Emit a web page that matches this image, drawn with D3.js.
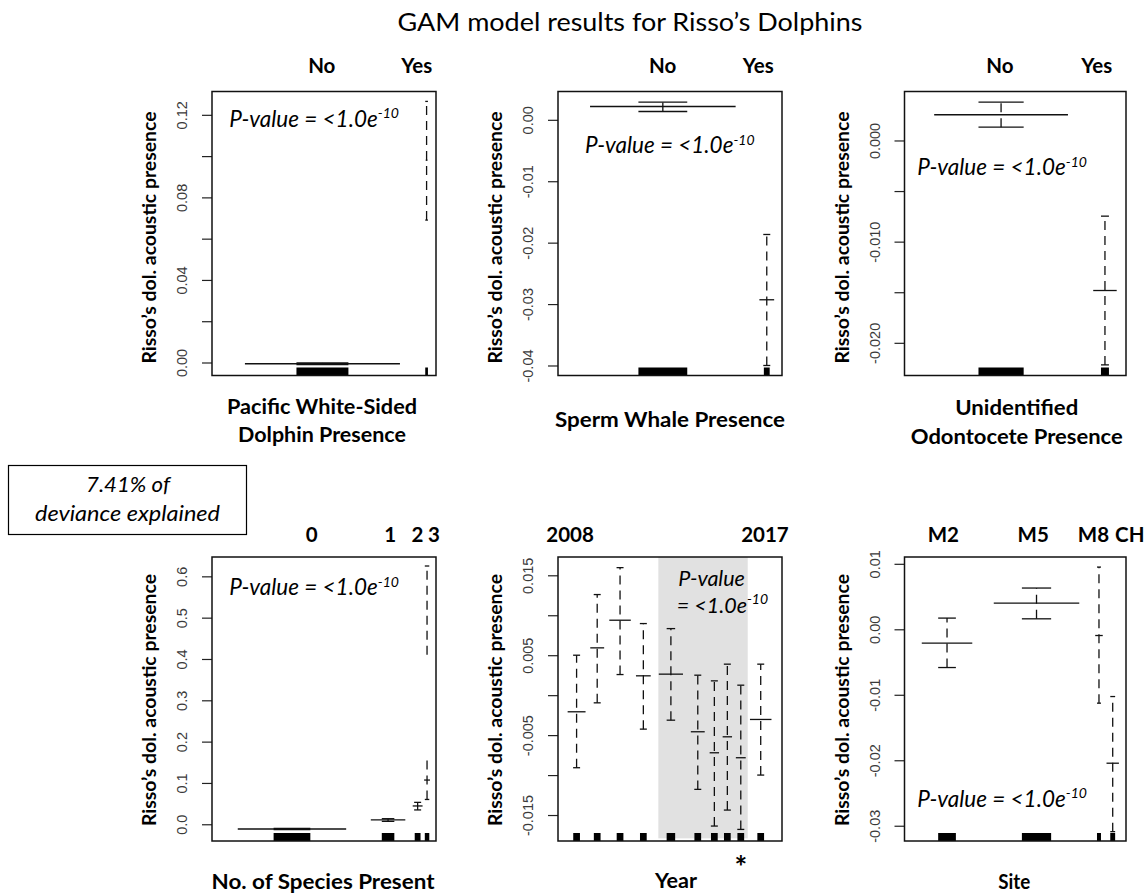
<!DOCTYPE html>
<html><head><meta charset="utf-8">
<script src="https://cdn.jsdelivr.net/npm/d3@7"></script>
<style>body{margin:0;background:#fff} svg{display:block}</style>
</head><body>
<svg id="c" width="1148" height="896"></svg>
<script>
// ---------------- DATA ----------------
// Panel 1: Pacific White-Sided Dolphin Presence
const pwsCats = ["No", "Yes"];
const pwsPos = [0.493, 0.958];
const pwsMean = [-0.0006, 0.098];
const pwsUpper = [-0.0002, 0.1265];
const pwsLower = [-0.0010, 0.069];
const pwsShare = [0.346, 0.004];
const pwsRug = [0.116, 0.006];
const pwsLabelPos = [0.490, 0.914];
const pwsTicks = [0, 0.02, 0.04, 0.06, 0.08, 0.10, 0.12];
const pwsTickLabels = [0, 0.04, 0.08, 0.12];
const pwsDomain = [-0.0063, 0.1313];

// Panel 2: Sperm Whale Presence
const spCats = ["No", "Yes"];
const spPos = [0.468, 0.932];
const spMean = [0.00217, -0.0293];
const spUpper = [0.00287, -0.01867];
const spLower = [0.00135, -0.0400];
const spShare = [0.325, 0.033];
const spRug = [0.109, 0.013];
const spLabelPos = [0.467, 0.894];
const spTicks = [0, -0.01, -0.02, -0.03, -0.04];
const spTickLabels = [0, -0.01, -0.02, -0.03, -0.04];
const spDomain = [-0.04163, 0.00461];

// Panel 3: Unidentified Odontocete Presence
const uoCats = ["No", "Yes"];
const uoPos = [0.436, 0.905];
const uoMean = [0.00254, -0.01483];
const uoUpper = [0.00379, -0.00748];
const uoLower = [0.00131, -0.02218];
const uoShare = [0.302, 0.053];
const uoRug = [0.102, 0.018];
const uoLabelPos = [0.431, 0.868];
const uoTicks = [0, -0.005, -0.010, -0.015, -0.020];
const uoTickLabels = [0, -0.010, -0.020];
const uoDomain = [-0.02323, 0.00484];

// Panel 4: No. of Species Present
const nsCats = ["0", "1", "2", "3"];
const nsPos = [0.357, 0.786, 0.918, 0.960];
const nsMean = [-0.0114, 0.0104, 0.0443, 0.107];
const nsUpper = [-0.0098, 0.0135, 0.053, 0.625];
const nsLower = [-0.0130, 0.0070, 0.0347, 0.060];
const nsGapLow = [null, null, null, 0.157];
const nsGapHigh = [null, null, null, 0.41];
const nsShare = [0.242, 0.077, 0.022, 0.013];
const nsRug = [0.082, 0.028, 0.013, 0.010];
const nsLabelPos = [0.445, 0.795, 0.917, 0.991];
const nsTicks = [0, 0.1, 0.2, 0.3, 0.4, 0.5, 0.6];
const nsTickLabels = [0, 0.1, 0.2, 0.3, 0.4, 0.5, 0.6];
const nsDomain = [-0.0405, 0.6468];

// Panel 5: Year
const yrCats = ["2008","2009","2010","2011","2012","2013","2014","2015","2016","2017"];
const yrPos = [0.083, 0.175, 0.277, 0.381, 0.504, 0.624, 0.698, 0.756, 0.816, 0.905];
const yrMean = [-0.00208, 0.00592, 0.00938, 0.00242, 0.00263, -0.00458, -0.00721, -0.00521, -0.00783, -0.00304];
const yrUpper = [0.00500, 0.01259, 0.01596, 0.00896, 0.00833, 0.00250, 0.00179, 0.00388, 0.00125, 0.00388];
const yrLower = [-0.00908, -0.00096, 0.00258, -0.00425, -0.00313, -0.01179, -0.01638, -0.01438, -0.01680, -0.01000];
const yrShare = [0.040, 0.031, 0.048, 0.033, 0.054, 0.031, 0.021, 0.021, 0.022, 0.048];
const yrRug = [0.015, 0.015, 0.015, 0.015, 0.019, 0.015, 0.015, 0.015, 0.015, 0.015];
const yrLabels = ["2008", "2017"];
const yrLabelPos = [0.054, 0.924];
const yrShade = [0.448, 0.847];
const yrShadeBottom = -0.01792;
const yrStar = "2016";
const yrTicks = [-0.015, -0.010, -0.005, 0, 0.005, 0.010, 0.015];
const yrTickLabels = [-0.015, -0.005, 0.005, 0.015];
const yrDomain = [-0.01825, 0.01729];

// Panel 6: Site
const siCats = ["M2", "M5", "M8", "CH"];
const siPos = [0.192, 0.596, 0.878, 0.940];
const siMean = [-0.00211, 0.0040, -0.00095, -0.02045];
const siUpper = [0.00171, 0.0063, 0.0095, -0.01027];
const siLower = [-0.00584, 0.0016, -0.01128, -0.0309];
const siShare = [0.114, 0.193, 0.017, 0.028];
const siRug = [0.040, 0.066, 0.009, 0.011];
const siLabelPos = [0.175, 0.581, 0.853, 1.017];
const siTicks = [-0.03, -0.02, -0.01, 0, 0.01];
const siTickLabels = [-0.03, -0.02, -0.01, 0, 0.01];
const siDomain = [-0.03233, 0.01104];

const titleText = "GAM model results for Risso\u2019s Dolphins";
const yTitle = "Risso\u2019s dol. acoustic presence";
const pText = "P-value = <1.0e";
const pExp = "-10";
const devLines = ["7.41% of", "deviance explained"];

// ---------------- DRAW ----------------
const svg = d3.select("#c");
const FONT = "Lato, 'Open Sans', sans-serif";
const fmtMinus = f => d => d3.format(f)(d).replace("\u2212", "-");

svg.append("text").attr("x", 630).attr("y", 31).attr("text-anchor", "middle")
  .attr("font-family", FONT).attr("font-size", 25).attr("fill", "#000")
  .attr("textLength", 465).attr("lengthAdjust", "spacingAndGlyphs").text(titleText);

// deviance box
svg.append("rect").attr("x", 8.5).attr("y", 465.5).attr("width", 238).attr("height", 69)
  .attr("fill", "none").attr("stroke", "#000").attr("stroke-width", 1.2);
svg.append("text").attr("x", 128).attr("y", 492).attr("text-anchor", "middle")
  .attr("font-family", FONT).attr("font-style", "italic").attr("font-size", 21.5)
  .attr("textLength", 84).attr("lengthAdjust", "spacingAndGlyphs").text(devLines[0]);
svg.append("text").attr("x", 127.5).attr("y", 520.5).attr("text-anchor", "middle")
  .attr("font-family", FONT).attr("font-style", "italic").attr("font-size", 21.5)
  .attr("textLength", 185).attr("lengthAdjust", "spacingAndGlyphs").text(devLines[1]);

function panel(cfg) {
  const g = svg.append("g");
  const L = cfg.left, T = cfg.top, W = cfg.width, H = cfg.height;
  const x = d3.scaleLinear().domain([0, 1]).range([L, L + W]);
  const y = d3.scaleLinear().domain(cfg.domain).range([T + H, T]);

  if (cfg.shade) {
    g.append("rect").attr("x", x(cfg.shade[0])).attr("y", T)
      .attr("width", x(cfg.shade[1]) - x(cfg.shade[0]))
      .attr("height", y(cfg.shadeBottom) - T).attr("fill", "#e1e1e1");
  }

  // y axis
  const ax = g.append("g").attr("transform", `translate(${L},0)`)
    .call(d3.axisLeft(y).tickValues(cfg.ticks).tickSize(10).tickPadding(0)
      .tickFormat(d => cfg.tickLabels.some(v => Math.abs(v - d) < 1e-9) ? cfg.fmt(d) : ""));
  ax.select(".domain").remove();
  ax.selectAll(".tick line").attr("stroke", "#222").attr("stroke-width", 1.2);
  ax.selectAll(".tick text").attr("x", null).attr("dy", null)
    .attr("text-anchor", "middle").attr("transform", "translate(-25,0) rotate(-90)")
    .attr("font-family", "'Liberation Sans', Arial, sans-serif").attr("font-size", 14.5)
    .attr("fill", "#3a3a3a");

  // y title
  g.append("text").attr("transform", `translate(${L - 56},${T + H / 2 + cfg.yTitleDy}) rotate(-90)`)
    .attr("text-anchor", "middle").attr("font-family", FONT).attr("font-weight", "bold")
    .attr("font-size", 18.5).attr("textLength", 252).attr("lengthAdjust", "spacingAndGlyphs")
    .text(yTitle);

  const n = cfg.cats.length;
  const idx = d3.range(n);
  // rugs
  g.selectAll(".rug").data(idx).join("rect")
    .attr("x", i => x(cfg.pos[i] - cfg.rug[i])).attr("y", T + H - 8)
    .attr("width", i => x(cfg.rug[i] * 2) - x(0)).attr("height", 8).attr("fill", "#000");

  // se dashed lines
  idx.forEach(i => {
    const segs = (cfg.gapLow && cfg.gapLow[i] != null)
      ? [[cfg.lower[i], cfg.gapLow[i]], [cfg.gapHigh[i], cfg.upper[i]]]
      : [[cfg.lower[i], cfg.upper[i]]];
    segs.forEach(s => {
      g.append("line").attr("x1", x(cfg.pos[i])).attr("x2", x(cfg.pos[i]))
        .attr("y1", y(s[0])).attr("y2", y(s[1])).attr("stroke", "#111")
        .attr("stroke-width", 1.3).attr("stroke-dasharray", "9,6");
    });
    const rugPx = x(cfg.rug[i]) - x(0);
    const capHalf = rugPx < 2.6 ? rugPx : Math.max(rugPx, 3.5);
    [cfg.lower[i], cfg.upper[i]].forEach(v => {
      g.append("line").attr("x1", x(cfg.pos[i]) - capHalf).attr("x2", x(cfg.pos[i]) + capHalf)
        .attr("y1", y(v)).attr("y2", y(v)).attr("stroke", "#111").attr("stroke-width", 1.3);
    });
    // mean line
    g.append("line").attr("x1", x(cfg.pos[i] - cfg.share[i])).attr("x2", x(cfg.pos[i] + cfg.share[i]))
      .attr("y1", y(cfg.mean[i])).attr("y2", y(cfg.mean[i])).attr("stroke", "#111").attr("stroke-width", 1.3);
  });

  // box
  g.append("rect").attr("x", L).attr("y", T).attr("width", W).attr("height", H)
    .attr("fill", "none").attr("stroke", "#111").attr("stroke-width", 1.5);

  // category labels
  g.selectAll(".cl").data(cfg.labels).join("text")
    .attr("x", (d, i) => x(cfg.labelPos[i])).attr("y", T + cfg.labelDy)
    .attr("text-anchor", "middle").attr("font-family", FONT).attr("font-weight", "bold")
    .attr("font-size", 20.5).attr("fill", "#000").text(d => d);

  // x title
  cfg.xTitle.forEach((t, k) => {
    g.append("text").attr("x", L + W / 2 + (cfg.xTitleDx || 0)).attr("y", T + H + cfg.xTitleY[k])
      .attr("text-anchor", "middle").attr("font-family", FONT).attr("font-weight", "bold")
      .attr("font-size", 20).attr("textLength", cfg.xTitleW[k]).attr("lengthAdjust", "spacingAndGlyphs")
      .text(t);
  });

  // p-value (single text element, possibly multi-line)
  const pt = g.append("text").attr("font-family", FONT).attr("font-style", "italic")
    .attr("font-size", cfg.pSize || 22.5).attr("fill", "#000");
  cfg.pLines.forEach(pl => {
    pt.append("tspan").attr("x", pl.x).attr("y", pl.y).text(pl.text);
    if (pl.exp) pt.append("tspan").attr("dy", -8.5).attr("font-size", 14).text(pExp);
  });
  return { x, y, g };
}

const cols = [{ l: 212, w: 224 }, { l: 558, w: 224 }, { l: 904.5, w: 221.5 }];
const rows = [{ t: 91.5, h: 284 }, { t: 557, h: 284 }];

panel({ left: cols[0].l, width: cols[0].w, top: rows[0].t, height: rows[0].h,
  cats: pwsCats, pos: pwsPos, mean: pwsMean, upper: pwsUpper, lower: pwsLower,
  share: pwsShare, rug: pwsRug, labels: pwsCats, labelPos: pwsLabelPos, labelDy: -18.5,
  ticks: pwsTicks, tickLabels: pwsTickLabels, fmt: fmtMinus(".2f"), domain: pwsDomain, yTitleDy: 4,
  xTitle: ["Pacific White-Sided", "Dolphin Presence"], xTitleY: [38, 66.5], xTitleW: [190, 168], xTitleDx: -2,
  pLines: [{ x: 229.3, y: 126.5, text: pText, exp: true }] });

panel({ left: cols[1].l, width: cols[1].w, top: rows[0].t, height: rows[0].h,
  cats: spCats, pos: spPos, mean: spMean, upper: spUpper, lower: spLower,
  share: spShare, rug: spRug, labels: spCats, labelPos: spLabelPos, labelDy: -18.5,
  ticks: spTicks, tickLabels: spTickLabels, fmt: fmtMinus(".2f"), domain: spDomain, yTitleDy: 4,
  xTitle: ["Sperm Whale Presence"], xTitleY: [51.5], xTitleW: [230], xTitleDx: 0,
  pLines: [{ x: 585, y: 153, text: pText, exp: true }] });

panel({ left: cols[2].l, width: cols[2].w, top: rows[0].t, height: rows[0].h,
  cats: uoCats, pos: uoPos, mean: uoMean, upper: uoUpper, lower: uoLower,
  share: uoShare, rug: uoRug, labels: uoCats, labelPos: uoLabelPos, labelDy: -18.5,
  ticks: uoTicks, tickLabels: uoTickLabels, fmt: fmtMinus(".3f"), domain: uoDomain, yTitleDy: 4,
  xTitle: ["Unidentified", "Odontocete Presence"], xTitleY: [39.5, 68], xTitleW: [123, 212], xTitleDx: 1.5,
  pLines: [{ x: 917.3, y: 175, text: pText, exp: true }] });

panel({ left: cols[0].l, width: cols[0].w, top: rows[1].t, height: rows[1].h,
  cats: nsCats, pos: nsPos, mean: nsMean, upper: nsUpper, lower: nsLower,
  gapLow: nsGapLow, gapHigh: nsGapHigh,
  share: nsShare, rug: nsRug, labels: nsCats, labelPos: nsLabelPos, labelDy: -15.5,
  ticks: nsTicks, tickLabels: nsTickLabels, fmt: fmtMinus(".1f"), domain: nsDomain, yTitleDy: 1,
  xTitle: ["No. of Species Present"], xTitleY: [48], xTitleW: [223], xTitleDx: -1,
  pLines: [{ x: 229.3, y: 595, text: pText, exp: true }] });

const p5 = panel({ left: cols[1].l, width: cols[1].w, top: rows[1].t, height: rows[1].h,
  cats: yrCats, pos: yrPos, mean: yrMean, upper: yrUpper, lower: yrLower,
  share: yrShare, rug: yrRug, labels: yrLabels, labelPos: yrLabelPos, labelDy: -15.5,
  shade: yrShade, shadeBottom: yrShadeBottom,
  ticks: yrTicks, tickLabels: yrTickLabels, fmt: fmtMinus(".3f"), domain: yrDomain, yTitleDy: 1,
  xTitle: ["Year"], xTitleY: [47], xTitleW: [42], xTitleDx: 6, pSize: 21.5,
  pLines: [{ x: 678.3, y: 586, text: "P-value", exp: false }, { x: 676.7, y: 612.5, text: "= <1.0e", exp: true }] });
p5.g.append("text").attr("x", p5.x(yrPos[yrCats.indexOf(yrStar)])).attr("y", 878)
  .attr("text-anchor", "middle").attr("font-family", FONT).attr("font-weight", "bold")
  .attr("font-size", 30).text("*");

panel({ left: cols[2].l, width: cols[2].w, top: rows[1].t, height: rows[1].h,
  cats: siCats, pos: siPos, mean: siMean, upper: siUpper, lower: siLower,
  share: siShare, rug: siRug, labels: siCats, labelPos: siLabelPos, labelDy: -15.5,
  ticks: siTicks, tickLabels: siTickLabels, fmt: fmtMinus(".2f"), domain: siDomain, yTitleDy: 1,
  xTitle: ["Site"], xTitleY: [48], xTitleW: [32], xTitleDx: -1,
  pLines: [{ x: 917.3, y: 806.5, text: pText, exp: true }] });
</script>
</body></html>
